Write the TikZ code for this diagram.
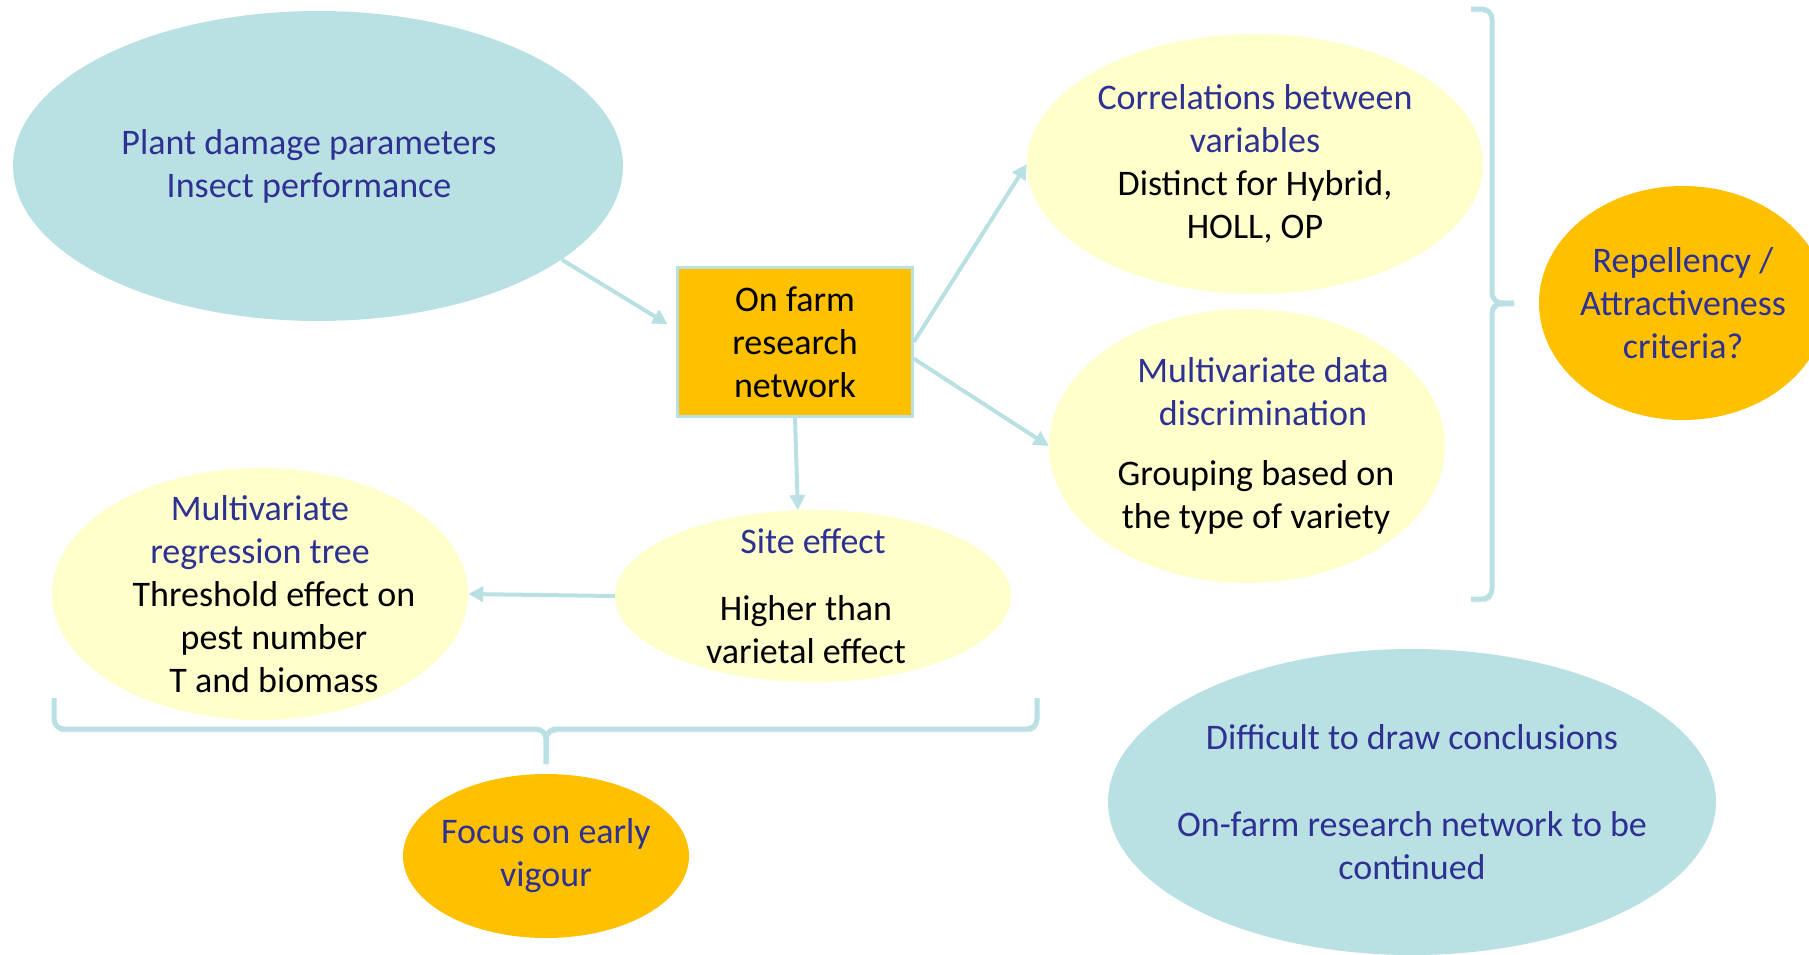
\documentclass[tikz,border=0pt]{standalone}
\usepackage{fontspec}
\setmainfont{Carlito}
\usetikzlibrary{shapes.geometric, arrows.meta}
\definecolor{paleteal}{RGB}{185,224,227}
\definecolor{gold}{RGB}{255,192,0}
\definecolor{cream}{RGB}{255,255,204}
\definecolor{navy}{RGB}{46,49,146}
\newcommand{\hd}[1]{\textcolor{navy}{#1}}

\begin{document}
\begin{tikzpicture}[x=1pt, y=-1pt, >={Triangle[length=15pt, width=15pt]},
    every node/.style={align=center, font=\fontsize{36}{43}\selectfont},
    blob/.style={ellipse, inner sep=-60pt},
    link/.style={->, line width=4pt, draw=paleteal},
    brace/.style={line width=5pt, draw=paleteal, rounded corners=10pt,
        preaction={draw=black!22, transform canvas={shift={(1pt,-3pt)}}}}]
    \useasboundingbox (0, 0) rectangle (1809, 954);
    \node [blob, fill=paleteal, text=navy, minimum width=610pt, minimum height=310pt] (plant) at (318, 166)
        {\hspace*{-18pt}Plant damage parameters\\\hspace*{-18pt}Insect performance};
    \node [rectangle, fill=gold, draw=paleteal, line width=2.5pt, minimum width=235pt, minimum height=149pt] (net) at (795, 342)
        {On farm\\research\\network};
    \node [blob, fill=cream, minimum width=456pt, minimum height=260pt] (corr) at (1255, 164)
        {\hd{Correlations between}\\\hd{variables}\\Distinct for Hybrid,\\HOLL, OP};
    \node [blob, fill=cream, minimum width=396pt, minimum height=274pt] (mvd) at (1247, 446)
        {\hspace*{32pt}\hd{Multivariate data}\\\hspace*{32pt}\hd{discrimination}\\[17pt]
         \hspace*{18pt}Grouping based on\\\hspace*{18pt}the type of variety};
    \node [blob, fill=cream, minimum width=396pt, minimum height=172pt] (site) at (813, 596)
        {\hd{Site effect}\\[24pt]\hspace*{-14pt}Higher than\\\hspace*{-14pt}varietal effect};
    \node [blob, fill=cream, minimum width=416pt, minimum height=252pt] (mrt) at (260, 594)
        {\hd{Multivariate}\\\hd{regression tree}\\\hspace*{28pt}Threshold effect on\\
         \hspace*{28pt}pest number\\\hspace*{28pt}T and biomass};
    \node [blob, fill=gold, text=navy, minimum width=286pt, minimum height=164pt] (focus) at (546, 856)
        {Focus on early\\vigour};
    \node [blob, fill=gold, text=navy, minimum width=288pt, minimum height=234pt] (rep) at (1683, 303)
        {Repellency /\\Attractiveness\\criteria?};
    \node [blob, fill=paleteal, text=navy, minimum width=608pt, minimum height=306pt] (concl) at (1412, 802)
        {Difficult to draw conclusions\\[44pt]On-farm research network to be\\continued};
    \draw [link, shorten >=10pt] (plant.-21) -- (net.174);
    \draw [link] (net.east) -- (corr.west);
    \draw [link] (net.-8) -- (mvd.west);
    \draw [link] (net.south) -- (site.100);
    \draw [link] (site.west) -- (mrt.east);
    \draw [brace] (1471, 9) -- (1492, 9) -- (1492, 303) -- (1514, 303);
    \draw [brace] (1471, 599) -- (1492, 599) -- (1492, 303) -- (1514, 303);
    \draw [brace] (54, 698) -- (54, 729) -- (546, 729) -- (546, 764);
    \draw [brace] (1037, 698) -- (1037, 729) -- (546, 729) -- (546, 764);
\end{tikzpicture}
\end{document}
